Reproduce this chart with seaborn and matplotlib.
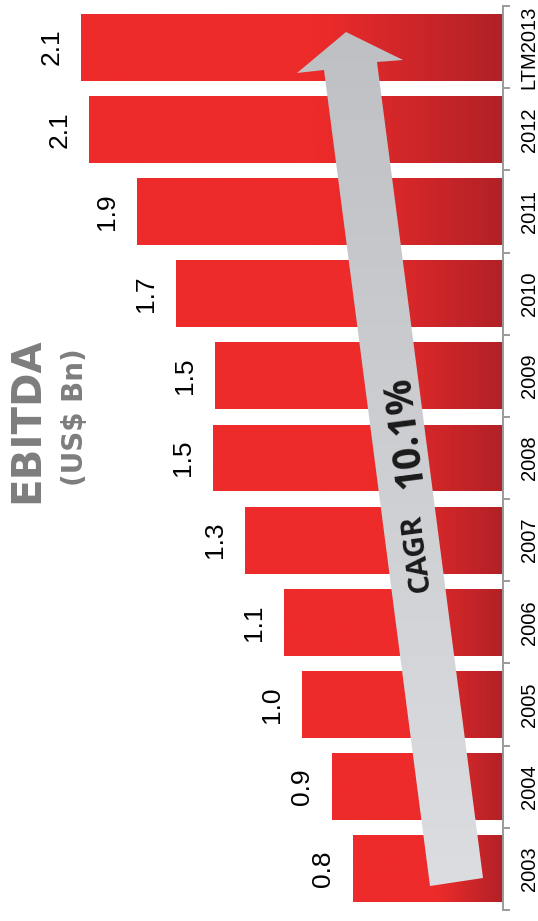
import numpy as np
import pandas as pd
import matplotlib
matplotlib.use("Agg")
import matplotlib.pyplot as plt
import seaborn as sns
from matplotlib.colors import LinearSegmentedColormap
from matplotlib.patches import Polygon
from matplotlib.ticker import FixedLocator

# ---------------- data ----------------
years = ["2003", "2004", "2005", "2006", "2007", "2008", "2009", "2010", "2011", "2012", "LTM2013"]
ebitda = [0.76, 0.87, 1.02, 1.11, 1.31, 1.47, 1.46, 1.66, 1.86, 2.10, 2.14]
title_main = "EBITDA"
title_sub = "(US$ Bn)"
cagr_label = "CAGR"
cagr_value = "10.1%"

sns.set_theme(style="white")
narrow = ["Liberation Sans Narrow", "Liberation Sans", "DejaVu Sans"]
plt.rcParams["font.family"] = narrow

W, H = 538, 921
fig = plt.figure(figsize=(W / 100, H / 100), dpi=100)
ax = fig.add_axes([0.0, (H - 910) / H, 503 / W, 904 / H])

df = pd.DataFrame({"year": years, "value": ebitda})
order = years[::-1]
sns.barplot(data=df, x="value", y="year", order=order, orient="y",
            color="#ee2b2b", width=0.815, ax=ax, saturation=1)

xmax = 503 / 197.0
ax.set_xlim(xmax, 0)
ax.set_ylim(len(years) - 0.5, -0.5)

# gradient fill for bars
bar_cmap = LinearSegmentedColormap.from_list(
    "bar", [(0.0, "#b12127"), (0.45, "#ee2b2b"), (1.0, "#ee2b2b")])
grad = np.linspace(0, 1, 256).reshape(1, -1)
for p in list(ax.patches):
    x0, y0, w, h = p.get_x(), p.get_y(), p.get_width(), p.get_height()
    im = ax.imshow(grad, cmap=bar_cmap, aspect="auto",
                   extent=(x0, x0 + w, y0 + h, y0), zorder=2, interpolation="bicubic")
    im.set_clip_path(p)
    p.set_facecolor("none")
    p.set_edgecolor("none")
ax.set_xlim(xmax, 0)
ax.set_ylim(len(years) - 0.5, -0.5)

# value labels
for i, yr in enumerate(order):
    v = df.loc[df.year == yr, "value"].iloc[0]
    ax.annotate(f"{v:.1f}", xy=(v, i), xytext=(-13, 0), textcoords="offset points",
                ha="right", va="center", rotation=90, fontsize=19,
                color="black", family=narrow, annotation_clip=False)

# axes styling
for s in ["top", "bottom", "left"]:
    ax.spines[s].set_visible(False)
ax.spines["right"].set_color("#9a9a9a")
ax.spines["right"].set_linewidth(1.4)
ax.set_xticks([])
ax.set_xlabel("")
ax.set_ylabel("")
ax.yaxis.tick_right()
ax.yaxis.set_minor_locator(FixedLocator(np.arange(-0.5, len(years), 1.0)))
ax.tick_params(axis="y", which="major", length=0, pad=12, labelsize=14.5,
               labelcolor="black", right=True, left=False, labelrotation=90)
ax.tick_params(axis="y", which="minor", length=5, width=1.4, color="#9a9a9a",
               direction="out", right=True, left=False)
for lab in ax.get_yticklabels():
    lab.set_va("center")
    lab.set_ha("left")
    lab.set_family(narrow)

# overlay in pixel coordinates for arrow and title
ov = fig.add_axes([0, 0, 1, 1], zorder=5)
ov.set_xlim(0, W)
ov.set_ylim(H, 0)
ov.axis("off")
ov.patch.set_alpha(0)

arrow_pts = [(430, 886), (483, 878), (377, 62), (403, 60), (346, 32),
             (297, 73), (324, 70)]
poly = Polygon(arrow_pts, closed=True, facecolor="none", edgecolor="none")
ov.add_patch(poly)
arr_cmap = LinearSegmentedColormap.from_list("arr", ["#bfc0c4", "#dcdde0"])
vgrad = np.linspace(0, 1, 256).reshape(-1, 1)
aim = ov.imshow(vgrad, cmap=arr_cmap, aspect="auto", extent=(290, 490, 890, 28),
                interpolation="bicubic")
aim.set_clip_path(poly)
ov.set_xlim(0, W)
ov.set_ylim(H, 0)

ov.text(417, 553, cagr_label, rotation=97.4, ha="center", va="center",
        fontsize=21, fontweight="bold", color="#1a1a1a", family=["Open Sans", "DejaVu Sans"])
ov.text(405, 432, cagr_value, rotation=97.4, ha="center", va="center",
        fontsize=28, fontweight="bold", color="#1a1a1a", family=["Open Sans", "DejaVu Sans"])

ov.text(27, 420, title_main, rotation=90, ha="center", va="center",
        fontsize=29, fontweight="bold", color="#7d7d7d", family=["DejaVu Sans"])
ov.text(75, 417, title_sub, rotation=90, ha="center", va="center",
        fontsize=20, fontweight="bold", color="#7d7d7d", family=["DejaVu Sans"])

fig.savefig("out.png", dpi=100)
